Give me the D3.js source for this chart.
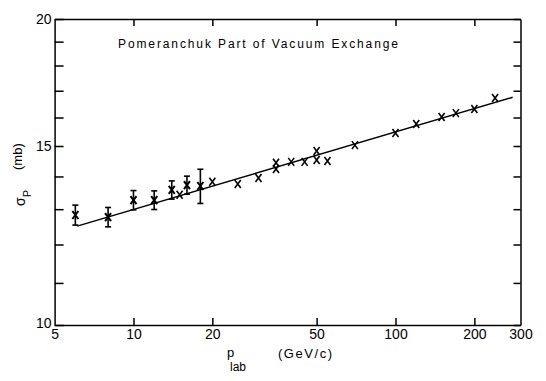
<!DOCTYPE html>
<html lang="en">
<head>
<meta charset="UTF-8"/>
<title>Pomeranchuk Part of Vacuum Exchange</title>
<script type="text/javascript" src="https://cdn.jsdelivr.net/npm/d3@7"></script>
<style>
body { margin: 0; background: #fff; }
text { fill: #000; font-family: "Liberation Sans", Arial, sans-serif; }
.axis path, .axis line { stroke: #000; stroke-width: 1.5px; }
.axis text { font-size: 14px; }
</style>
</head>
<body>
<svg id="chart"></svg>

<script type="text/javascript">
// data
var momenta  = [6, 8, 10, 12, 14, 15, 16, 18, 20, 25, 30, 35, 35, 40, 45, 50, 50, 55, 70, 100, 120, 150, 170, 200, 240];
var sigmaP   = [12.83, 12.77, 13.27, 13.27, 13.58, 13.43, 13.73, 13.70, 13.83, 13.76, 13.95, 14.44, 14.24, 14.47, 14.47, 14.83, 14.53, 14.50, 15.03, 15.45, 15.77, 16.02, 16.16, 16.31, 16.72];
var sigmaErr = [0.29, 0.28, 0.29, 0.28, 0.28, 0, 0.28, 0.53, 0, 0, 0, 0, 0, 0, 0, 0, 0, 0, 0, 0, 0, 0, 0, 0, 0];
var fitP     = [6.1, 280];
var fitSigma = [12.51, 16.75];
var xTickVals = [5, 10, 20, 50, 100, 200, 300];
var xInnerTicks = [10, 20, 50, 100, 200];
var yTickVals = [10, 11, 12, 13, 14, 15, 16, 17, 18, 19, 20];
var yLabelled = [10, 15, 20];

var width = 546, height = 381;
// plot frame (note: "top" is taken by window.top)
var frameL = 54.6, frameR = 520.5, frameT = 19, frameB = 325;

var svg = d3.select("#chart")
	.attr("width", width)
	.attr("height", height);

var x = d3.scaleLog().domain([5, 300]).range([frameL, frameR]);
var y = d3.scaleLog().domain([10, 20]).range([frameB, frameT]);

// bottom axis with labels, ticks pointing in
svg.append("g")
	.attr("class", "axis")
	.attr("transform", "translate(0," + frameB + ")")
	.call(d3.axisBottom(x)
		.tickValues(xTickVals)
		.tickSizeInner(-7)
		.tickSizeOuter(0)
		.tickPadding(4)
		.tickFormat(d3.format("d")))
	.selectAll(".tick line")
	.attr("opacity", function(d) { return xInnerTicks.indexOf(d) >= 0 ? 1 : 0; });

// top axis, ticks only
svg.append("g")
	.attr("class", "axis")
	.attr("transform", "translate(0," + frameT + ")")
	.call(d3.axisTop(x)
		.tickValues(xInnerTicks)
		.tickSizeInner(-7)
		.tickSizeOuter(0)
		.tickFormat(""));

// left axis
svg.append("g")
	.attr("class", "axis")
	.attr("transform", "translate(" + frameL + ",0)")
	.call(d3.axisLeft(y)
		.tickValues(yTickVals)
		.tickSizeInner(-9)
		.tickSizeOuter(0)
		.tickPadding(3)
		.tickFormat(function(d) { return yLabelled.indexOf(d) >= 0 ? d : ""; }))
	.selectAll(".tick text")
	.attr("dy", function(d) { return d == 10 ? "0.15em" : "0.32em"; });

// right axis, ticks only
svg.append("g")
	.attr("class", "axis")
	.attr("transform", "translate(" + frameR + ",0)")
	.call(d3.axisRight(y)
		.tickValues(yTickVals)
		.tickSizeInner(-7)
		.tickSizeOuter(0)
		.tickFormat(""));

// fitted line
var fit = fitP.map(function(p, i) { return [p, fitSigma[i]]; });
svg.append("path")
	.datum(fit)
	.attr("fill", "none")
	.attr("stroke", "#000")
	.attr("stroke-width", 1.5)
	.attr("d", d3.line()
		.x(function(d) { return x(d[0]); })
		.y(function(d) { return y(d[1]); }));

// data points
var pts = momenta.map(function(p, i) { return {p: p, s: sigmaP[i], e: sigmaErr[i]}; });

var bars = svg.append("g").selectAll("g")
	.data(pts.filter(function(d) { return d.e > 0; }))
	.enter().append("g")
	.attr("stroke", "#000")
	.attr("stroke-width", 1.6);
bars.append("line")
	.attr("x1", function(d) { return x(d.p); })
	.attr("x2", function(d) { return x(d.p); })
	.attr("y1", function(d) { return y(d.s + d.e); })
	.attr("y2", function(d) { return y(d.s - d.e); });
bars.append("line")
	.attr("x1", function(d) { return x(d.p) - 3; })
	.attr("x2", function(d) { return x(d.p) + 3; })
	.attr("y1", function(d) { return y(d.s + d.e); })
	.attr("y2", function(d) { return y(d.s + d.e); });
bars.append("line")
	.attr("x1", function(d) { return x(d.p) - 3; })
	.attr("x2", function(d) { return x(d.p) + 3; })
	.attr("y1", function(d) { return y(d.s - d.e); })
	.attr("y2", function(d) { return y(d.s - d.e); });

svg.append("g").selectAll("path")
	.data(pts)
	.enter().append("path")
	.attr("transform", function(d) { return "translate(" + x(d.p) + "," + y(d.s) + ")"; })
	.attr("d", "M-3,-4L3,4M3,-4L-3,4")
	.attr("fill", "none")
	.attr("stroke", "#000")
	.attr("stroke-width", function(d) { return d.e > 0 ? 2 : 1.6; });

// title
svg.append("text")
	.attr("x", 118)
	.attr("y", 47.5)
	.attr("font-size", 12)
	.attr("textLength", 280)
	.attr("lengthAdjust", "spacing")
	.text("Pomeranchuk Part of Vacuum Exchange");

// x axis title
svg.append("text")
	.attr("x", 227)
	.attr("y", 357)
	.attr("font-size", 13)
	.text("p");
svg.append("text")
	.attr("x", 230)
	.attr("y", 371)
	.attr("font-size", 12)
	.text("lab");
svg.append("text")
	.attr("x", 278)
	.attr("y", 358)
	.attr("font-size", 13)
	.attr("textLength", 54)
	.text("(GeV/c)");

// y axis title (rotated)
var ylab = svg.append("text")
	.attr("transform", "translate(25,206) rotate(-90)")
	.attr("font-size", 14);
ylab.append("tspan").text("σ");
ylab.append("tspan").attr("dy", 6).attr("font-size", 11).text("P");
svg.append("text")
	.attr("transform", "translate(22,170) rotate(-90)")
	.attr("font-size", 13)
	.text("(mb)");
</script>
</body>
</html>
